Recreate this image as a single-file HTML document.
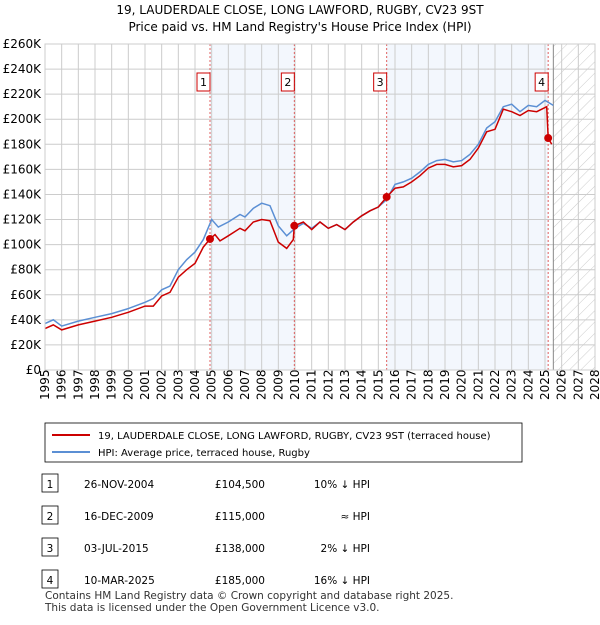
<!DOCTYPE html>
<html><head><meta charset="utf-8"><style>
body{margin:0;background:#fff;font-family:"Liberation Sans","DejaVu Sans",sans-serif;}
svg text{font-family:"DejaVu Sans","Liberation Sans",sans-serif;}
</style></head><body>
<svg id="c" width="600" height="620" xmlns="http://www.w3.org/2000/svg">
<defs><pattern id="hatch" width="8" height="8" patternUnits="userSpaceOnUse" patternTransform="rotate(45)"><line x1="0" y1="0" x2="0" y2="8" stroke="#ccc" stroke-width="1"/></pattern></defs>
<text x="300" y="14" text-anchor="middle" font-size="12">19, LAUDERDALE CLOSE, LONG LAWFORD, RUGBY, CV23 9ST</text>
<text x="300" y="31" text-anchor="middle" font-size="12">Price paid vs. HM Land Registry's House Price Index (HPI)</text>
<g id="plot"></g>
<rect x="45" y="423" width="477" height="39" fill="#fff" stroke="#000" stroke-width="0.8"/>
<line x1="52" y1="435" x2="90" y2="435" stroke="#cc0000" stroke-width="2"/>
<text x="98" y="439" font-size="10">19, LAUDERDALE CLOSE, LONG LAWFORD, RUGBY, CV23 9ST (terraced house)</text>
<line x1="52" y1="452" x2="90" y2="452" stroke="#5b8fd4" stroke-width="2"/>
<text x="98" y="456" font-size="10">HPI: Average price, terraced house, Rugby</text>
<g id="tbl"></g>
<text x="45" y="599" font-size="10.5" fill="#333">Contains HM Land Registry data © Crown copyright and database right 2025.</text>
<text x="45" y="611" font-size="10.5" fill="#333">This data is licensed under the Open Government Licence v3.0.</text>
</svg>
<script>
const yTicks=[0,20,40,60,80,100,120,140,160,180,200,220,240,260];
const xYears=[1995,1996,1997,1998,1999,2000,2001,2002,2003,2004,2005,2006,2007,2008,2009,2010,2011,2012,2013,2014,2015,2016,2017,2018,2019,2020,2021,2022,2023,2024,2025,2026,2027,2028];
const hpiT=[1995,1995.5,1996,1997,1998,1999,2000,2001,2001.5,2002,2002.5,2003,2003.5,2004,2004.5,2005,2005.4,2006,2006.7,2007,2007.5,2008,2008.5,2009,2009.5,2010,2010.5,2011,2011.5,2012,2012.5,2013,2013.5,2014,2014.5,2015,2015.5,2016,2016.5,2017,2017.5,2018,2018.5,2019,2019.5,2020,2020.5,2021,2021.5,2022,2022.5,2023,2023.5,2024,2024.5,2025,2025.5];
const hpiV=[37,40,35,39,42,45,49,54,57,64,67,80,88,94,104,120,114,118,124,122,129,133,131,115,107,113,117,113,118,113,116,112,118,123,127,130,136,148,150,153,158,164,167,168,166,167,172,180,193,198,210,212,206,211,210,215,211];
const pT=[1995,1995.5,1996,1997,1998,1999,2000,2001,2001.5,2002,2002.5,2003,2003.5,2004,2004.5,2004.9,2005.2,2005.5,2006,2006.7,2007,2007.5,2008,2008.5,2009,2009.5,2009.9,2009.96,2010.5,2011,2011.5,2012,2012.5,2013,2013.5,2014,2014.5,2015,2015.5,2016,2016.5,2017,2017.5,2018,2018.5,2019,2019.5,2020,2020.5,2021,2021.5,2022,2022.5,2023,2023.5,2024,2024.5,2025.1,2025.19,2025.4];
const pV=[33,36,32,36,39,42,46,51,51,59,62,74,80,85,98,104.5,108,103,107,113,111,118,120,119,102,97,104,115,118,112,118,113,116,112,118,123,127,130,138,145,146,150,155,161,164,164,162,163,168,177,190,192,208,206,203,207,206,210,185,180];
const saleT=[2004.9,2009.96,2015.5,2025.19];
const saleV=[104.5,115,138,185];
const saleLabels=["1","2","3","4"];
const saleDates=["26-NOV-2004","16-DEC-2009","03-JUL-2015","10-MAR-2025"];
const salePrices=["£104,500","£115,000","£138,000","£185,000"];
const saleRel=["10% ↓ HPI","≈ HPI","2% ↓ HPI","16% ↓ HPI"];
const X0=45,X1=595,Y0=370,Y1=44;
const xs=t=>X0+(t-1995)*(X1-X0)/33, ys=v=>Y0-v*(Y0-Y1)/260;
const NS="http://www.w3.org/2000/svg";
function mk(p,tag,a){const e=document.createElementNS(NS,tag);for(const k in a)e.setAttribute(k,a[k]);p.appendChild(e);return e;}
const g=document.getElementById('plot');
// shaded regions
for(let i=0;i<4;i+=2){const r=mk(g,'rect',{x:xs(saleT[i]),y:Y1,width:xs(saleT[i+1])-xs(saleT[i]),height:Y0-Y1,fill:'#eef3fc',opacity:0.7});

}
const hz=mk(g,'rect',{x:xs(2025.5),y:Y1,width:X1-xs(2025.5),height:Y0-Y1,fill:'url(#hatch)'});


yTicks.forEach(v=>{const l=mk(g,'line',{x1:X0,x2:X1,y1:ys(v),y2:ys(v),stroke:'#ccc','stroke-width':1});


const t=mk(g,'text',{x:X0-4,y:ys(v)+4,'text-anchor':'end','font-size':12});t.textContent=v==0?'£0':'£'+v+'K';

});
xYears.forEach(y=>{const l=mk(g,'line',{x1:xs(y),x2:xs(y),y1:Y1,y2:Y0,stroke:'#ccc','stroke-width':1});


const t=mk(g,'text',{x:0,y:0,'font-size':12,transform:`translate(${xs(y)+4},${Y0+30}) rotate(-90)`});t.textContent=y;

});
const nl=mk(g,'line',{x1:xs(2025.5),x2:xs(2025.5),y1:Y1,y2:Y0,stroke:'#888','stroke-width':1});


saleT.forEach((t,i)=>{const l=mk(g,'line',{x1:xs(t),x2:xs(t),y1:Y1,y2:Y0,stroke:'#e06060','stroke-width':1,'stroke-dasharray':'2,2'});

});
const path=(T,V)=>T.map((t,i)=>(i?'L':'M')+xs(t).toFixed(1)+','+ys(V[i]).toFixed(1)).join('');
const hp=mk(g,'path',{d:path(hpiT,hpiV),fill:'none',stroke:'#5b8fd4','stroke-width':1.5});


const pp=mk(g,'path',{d:path(pT,pV),fill:'none',stroke:'#cc0000','stroke-width':1.5});


saleT.forEach((t,i)=>{const c=mk(g,'circle',{cx:xs(t),cy:ys(saleV[i]),r:4,fill:'#cc0000'});


const bx=xs(t)-13;const b=mk(g,'rect',{x:bx,y:73,width:13,height:18,fill:'#fff',stroke:'#cc0000','stroke-width':1});


const tx=mk(g,'text',{x:bx+6.5,y:86,'text-anchor':'middle','font-size':11});tx.textContent=saleLabels[i];

});
const ax=mk(g,'rect',{x:X0,y:Y1,width:X1-X0,height:Y0-Y1,fill:'none',stroke:'#ccc'});


const tb=document.getElementById('tbl');
saleLabels.forEach((s,i)=>{const y=484+i*32;
const b=mk(tb,'rect',{x:42,y:y-10,width:16,height:18,fill:'#fff',stroke:'#000','stroke-width':0.8});


const cells=[[50,s,'middle'],[84,saleDates[i],'start'],[265,salePrices[i],'end'],[370,saleRel[i],'end']];
cells.forEach(c=>{const t=mk(tb,'text',{x:c[0],y:y+4,'text-anchor':c[2],'font-size':10.5});t.textContent=c[1];

});});
</script>
</body></html>
